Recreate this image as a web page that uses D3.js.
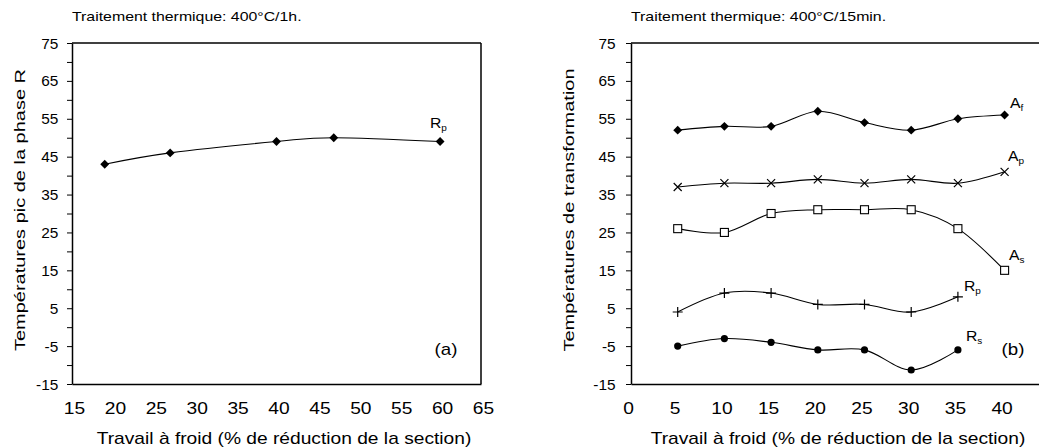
<!DOCTYPE html>
<head>
  <meta charset="utf-8">
  <title>temperatures</title>
  <style>
    body { margin: 0; background: #fff; }
    svg text { font-family: "Liberation Sans", Arial, sans-serif; fill: #000; }
  </style>
</head>
<script src="https://d3js.org/d3.v7.min.js"></script>
<div id="chart"></div>
<script>

  // panel (a) - 400°C/1h
  const xA = [19, 27, 40, 47, 60];
  const rpA = [43, 46, 49, 50, 49];

  // panel (b) - 400°C/15min
  const xB = [5, 10, 15, 20, 25, 30, 35, 40];
  const afB = [52, 53, 53, 57, 54, 52, 55, 56];
  const apB = [37, 38, 38, 39, 38, 39, 38, 41];
  const asB = [26, 25, 30, 31, 31, 31, 26, 15];
  const rpB = [4, 9, 9, 6, 6, 4, 8];
  const rsB = [-5, -3, -4, -6, -6, -11.3, -6];

  const yTicks = [75, 70, 65, 60, 55, 50, 45, 40, 35, 30, 25, 20, 15, 10, 5, 0, -5, -10, -15];
  const yLabels = [75, 65, 55, 45, 35, 25, 15, 5, -5, -15];
  const xTicksA = [15, 20, 25, 30, 35, 40, 45, 50, 55, 60, 65];
  const xTicksB = [0, 5, 10, 15, 20, 25, 30, 35, 40];

  const svg = d3.select("#chart").append("svg")
    .attr("width", 1039)
    .attr("height", 447);

  const plotTop = 43, plotBottom = 384;
  // the original lettering is wider than Liberation Sans, stretch it a bit
  const wide = 1.2;

  function panel(opt) {
    const g = svg.append("g");
    const x = d3.scaleLinear().domain(opt.xDomain).range([opt.left, opt.right]);
    const y = d3.scaleLinear().domain([-15, 75]).range([plotBottom, plotTop]);

    // y axis with ticks every 5, labels every 10
    const ya = g.append("g")
      .attr("transform", `translate(${opt.left},0)`)
      .call(d3.axisLeft(y).tickValues(yTicks).tickSize(5).tickSizeOuter(0)
        .tickFormat(d => yLabels.includes(d) ? d : ""));
    ya.select(".domain").attr("stroke-width", 1.5);
    ya.selectAll("text").attr("font-size", 14).attr("x", opt.yLabelX).attr("dy", "0.36em")
      .attr("transform", "scale(1.1,1)")
      .style("font-family", "Liberation Sans, Arial, sans-serif");

    // bottom axis: line only, labels below
    const xa = g.append("g")
      .attr("transform", `translate(0,${plotBottom})`)
      .call(d3.axisBottom(x).tickValues(opt.xTicks).tickSize(0).tickSizeOuter(0).tickPadding(19));
    xa.select(".domain").attr("stroke-width", 1.5);
    xa.selectAll("text").attr("font-size", 16)
      .attr("transform", `translate(${opt.xLabelShift},0) scale(${wide},1)`)
      .style("font-family", "Liberation Sans, Arial, sans-serif");

    // top border
    g.append("line")
      .attr("x1", opt.left).attr("x2", x(opt.xDomain[1]))
      .attr("y1", plotTop).attr("y2", plotTop)
      .attr("stroke", "#000").attr("stroke-width", 1.5);
    if (opt.rightBorder) {
      g.append("line")
        .attr("x1", opt.right).attr("x2", opt.right)
        .attr("y1", plotTop).attr("y2", plotBottom)
        .attr("stroke", "#000").attr("stroke-width", 1.5);
    }

    // title
    g.append("text")
      .attr("transform", `translate(${opt.left},21) scale(1.27,1)`)
      .attr("font-size", 12.5)
      .text(opt.title);

    // y title
    g.append("text")
      .attr("transform", `translate(${opt.yTitleX},210) rotate(-90) scale(1.29,1)`)
      .attr("text-anchor", "middle")
      .attr("font-size", 15.5)
      .text(opt.yTitle);

    // x title
    g.append("text")
      .attr("transform", `translate(${opt.xTitleX},443.5) scale(${wide},1)`)
      .attr("text-anchor", "middle")
      .attr("font-size", 16)
      .text("Travail à froid (% de réduction de la section)");

    // panel letter
    g.append("text")
      .attr("transform", `translate(${opt.letterX},355) scale(1.1,1)`)
      .attr("text-anchor", "middle")
      .attr("font-size", 17)
      .text(opt.letter);

    return {g, x, y};
  }

  const line = (x, y) => d3.line()
    .x(d => x(d[0])).y(d => y(d[1]))
    .curve(d3.curveCatmullRom.alpha(0));

  function series(p, xs, ys, marker) {
    const pts = ys.map((v, i) => [xs[i], v]);
    p.g.append("path")
      .datum(pts)
      .attr("fill", "none")
      .attr("stroke", "#000")
      .attr("stroke-width", 1.1)
      .attr("d", line(p.x, p.y));
    const m = p.g.append("g").selectAll("g").data(pts).join("g")
      .attr("transform", d => `translate(${p.x(d[0])},${p.y(d[1])})`);
    if (marker === "diamond") {
      m.append("path").attr("d", d3.symbol(d3.symbolDiamond2, 50)).attr("fill", "#000");
    } else if (marker === "square") {
      m.append("rect").attr("x", -4).attr("y", -4).attr("width", 8).attr("height", 8)
        .attr("fill", "#fff").attr("stroke", "#000").attr("stroke-width", 1.1);
    } else if (marker === "cross") {
      m.append("path").attr("d", "M-4,-4L4,4M-4,4L4,-4").attr("stroke", "#000").attr("stroke-width", 1.2);
    } else if (marker === "plus") {
      m.append("path").attr("d", "M-5,0L5,0M0,-5L0,5").attr("stroke", "#000").attr("stroke-width", 1.2);
    } else if (marker === "circle") {
      m.append("circle").attr("r", 3.6).attr("fill", "#000");
    }
  }

  function seriesLabel(p, xPos, yPos, main, sub) {
    const t = p.g.append("text")
      .attr("transform", `translate(${xPos},${yPos}) scale(1.05,1)`)
      .attr("font-size", 15);
    t.append("tspan").text(main);
    t.append("tspan").attr("font-size", 9.5).attr("dy", 3).text(sub);
  }

  const pa = panel({
    left: 72, right: 481, xDomain: [15, 65], xTicks: xTicksA, rightBorder: true,
    yLabelX: -12.5, xLabelShift: 2,
    title: "Traitement thermique: 400°C/1h.",
    yTitle: "Températures pic de la phase R", yTitleX: 25,
    xTitleX: 284, letter: "(a)", letterX: 446
  });
  series(pa, xA, rpA, "diamond");
  seriesLabel(pa, 430, 128, "R", "p");

  const pb = panel({
    left: 631, right: 631 + 46.7 * 9, xDomain: [0, 45], xTicks: xTicksB, rightBorder: false,
    yLabelX: -14, xLabelShift: -3,
    title: "Traitement thermique: 400°C/15min.",
    yTitle: "Températures de transformation", yTitleX: 574,
    xTitleX: 838, letter: "(b)", letterX: 1013
  });
  series(pb, xB, afB, "diamond");
  series(pb, xB, apB, "cross");
  series(pb, xB, asB, "square");
  series(pb, xB.slice(0, 7), rpB, "plus");
  series(pb, xB.slice(0, 7), rsB, "circle");
  seriesLabel(pb, 1010, 108, "A", "f");
  seriesLabel(pb, 1008, 161, "A", "p");
  seriesLabel(pb, 1009, 260, "A", "s");
  seriesLabel(pb, 964, 291, "R", "p");
  seriesLabel(pb, 966, 341, "R", "s");

</script>
